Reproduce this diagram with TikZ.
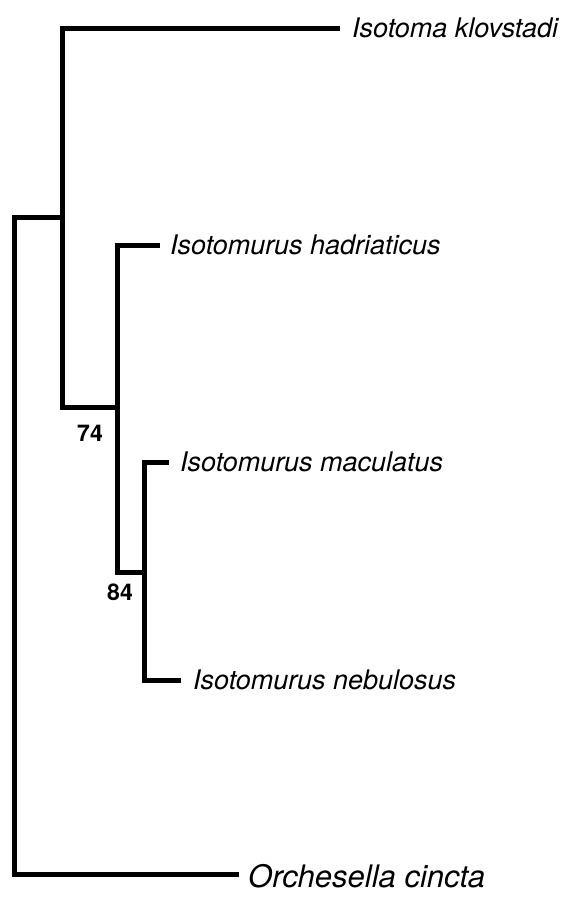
\documentclass[tikz,border=0pt]{standalone}
\usepackage{fontspec}
\setmainfont{TeX Gyre Heros}
\begin{document}
\begin{tikzpicture}[x=1pt,y=-1pt,
  branch/.style={line width=5pt,line cap=rect,line join=miter},
  taxon/.style={anchor=west,font=\fontsize{27}{27}\selectfont\itshape,inner sep=0pt},
  taxonbig/.style={anchor=west,font=\fontsize{31}{31}\selectfont\itshape,inner sep=0pt},
  support/.style={font=\fontsize{23}{23}\selectfont\bfseries,inner sep=0pt}]
\useasboundingbox (0,0) rectangle (572,905);
% internal nodes
\coordinate (root) at (14,217);
\coordinate (rootb) at (14,874);
\coordinate (n1) at (62,217);
\coordinate (n1t) at (62,28);
\coordinate (n1b) at (62,407);
\coordinate (n2) at (117,407);
\coordinate (n2t) at (117,245);
\coordinate (n2b) at (117,572);
\coordinate (n3) at (144,572);
\coordinate (n3t) at (144,462);
\coordinate (n3b) at (144,680);
% tips
\coordinate (tA) at (337,28);
\coordinate (tB) at (157,245);
\coordinate (tC) at (166,462);
\coordinate (tD) at (178,680);
\coordinate (tE) at (236,874);
\node[taxon] (lA) at (352,28) {Isotoma klovstadi};
\node[taxon] (lB) at (170,245) {Isotomurus hadriaticus};
\node[taxon] (lC) at (180,462) {Isotomurus maculatus};
\node[taxon] (lD) at (193,680) {Isotomurus nebulosus};
\node[taxonbig] (lE) at (248,876) {Orchesella cincta};
\node[support] (s74) at (90,433) {74};
\node[support] (s84) at (120,592) {84};
% branches
\draw[branch] (tE) -- (rootb) -- (root) -- (n1);
\draw[branch] (tA) -- (n1t) -- (n1b) -- (n2);
\draw[branch] (tB) -- (n2t) -- (n2b) -- (n3);
\draw[branch] (tC) -- (n3t) -- (n3b) -- (tD);
\end{tikzpicture}
\end{document}
